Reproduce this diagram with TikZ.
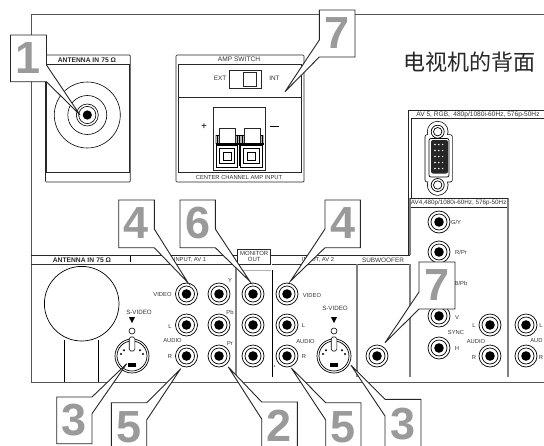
\documentclass[tikz,border=0pt]{standalone}
\usepackage{fontspec}
\setmainfont{Liberation Sans}
\newfontfamily\cjk{Noto Sans CJK SC}
\definecolor{frameC}{HTML}{555555}
\definecolor{digitC}{HTML}{9A9A9A}
\definecolor{barC}{HTML}{808080}
\tikzset{
  panel/.style={draw=black!85,line width=0.7pt},
  frameline/.style={draw=frameC,line width=1pt},
  bar/.style={draw=barC,line width=2.2pt},
  lab/.style={inner sep=0pt,font=\fontsize{5.8}{6}\selectfont,text=black!80},
  blab/.style={inner sep=0pt,font=\fontsize{6.7}{7}\selectfont\bfseries,text=black!85},
  co/.style={draw=black!85,fill=white,line width=0.9pt,line join=miter},
  dig/.style={inner sep=0pt,text=digitC,font=\fontsize{45}{45}\selectfont\bfseries},
  jack/.pic={
    \draw[black,fill=white,line width=0.7pt] (0,0) circle (11);
    \draw[black,fill=white,line width=0.7pt] (0,0) circle (8);
    \fill[black] (0,0) circle (4.8);
  },
  svideo/.pic={
    \draw[black,fill=white,line width=0.7pt] (0,0) circle (17);
    \draw[black,line width=0.7pt] (0,0) circle (15);
    \foreach \p in {(-8,-5.7),(8,-5.7),(-11,-2),(11,-2)} \fill[black] \p circle (1.1);
    \fill[black] (-4,6.7) rectangle (4,11);
    \draw[black,fill=white,line width=0.6pt,rounded corners=1.5pt] (-2.8,-19) rectangle (2.8,-5);
    \draw[black,line width=0.6pt] (0,-25) circle (3);
    \fill[black] (-3,-39) -- (3,-39) -- (0,-33) -- cycle;
  },
}
\begin{document}
\begin{tikzpicture}[x=1pt,y=-1pt]
\useasboundingbox (0,0) rectangle (544,445);
\clip (0,0) rectangle (544,445);
\fill[white] (0,0) rectangle (544,445);

% main frame
\draw[frameline] (544,14.5) -- (31,14.5) -- (31,382) -- (544,382);

% antenna panel
\draw[panel,rounded corners=1pt] (45.5,55) rectangle (130.3,182);
\draw[panel,line width=0.9pt] (46.5,64) -- (46.5,172) -- (129,172) -- (129,64) -- cycle;
\node[blab] (anttop) at (87,60) {ANTENNA IN\,\,75 Ω};
\foreach \r in {33,19.5,11,8.6} \draw[black,line width=0.6pt] (87.3,115) circle (\r);
\fill[black] (87.3,115) circle (4.6);

% amp panel
\draw[panel,rounded corners=1pt] (176,55) rectangle (304,182);
\draw[panel,line width=0.9pt] (178.5,64) -- (178.5,172) -- (301.5,172) -- (301.5,64) -- cycle;
\draw[panel] (178.5,97) -- (301.5,97);
\node[lab,font=\fontsize{6.6}{7}\selectfont] (ampsw) at (239,59.6) {AMP SWITCH};
\node[lab,font=\fontsize{6.4}{7}\selectfont] (ext) at (220,78) {EXT};
\node[lab,font=\fontsize{6.4}{7}\selectfont] (int) at (274.5,78) {INT};
\draw[panel] (229.5,70) rectangle (261,88);
\draw[panel,line width=0.9pt] (243.7,72.5) rectangle (256,86);
\node[inner sep=0pt,font=\fontsize{10}{10}\selectfont] (plus) at (204,126.5) {+};
\draw[black,line width=0.8pt] (270,126) -- (279,126);
\node[lab] (ccamp) at (239,177.3) {CENTER CHANNEL AMP INPUT};
% terminal block
\draw[panel] (213.3,107.5) rectangle (265.7,170);
\fill[barC!60] (215,135) rectangle (264,144);
\draw[black,line width=0.5pt] (216,135) -- (263,135);
\foreach \x in {219.3,244.2} {
  \draw[panel,fill=white] (\x,144) -- (\x,128.7) -- (\x+15.7,128.7) -- (\x+15.7,144);
  \draw[black,line width=0.5pt] (\x-2,135) -- (\x-2,144) (\x+17.7,135) -- (\x+17.7,144);
}
\draw[black,line width=1.3pt] (215.5,144) -- (264,144);
\foreach \x in {216,240.5} {
  \draw[black,line width=0.9pt,fill=white] (\x,145) rectangle (\x+21.5,167);
  \draw[black,line width=0.9pt] (\x+3,148.5) rectangle (\x+18.5,163.5);
  \draw[black,line width=0.6pt] (\x+7,152) rectangle (\x+15,160);
}
\draw[black,line width=1.2pt] (239.3,136) -- (239.3,166);

% band and lower panel
\draw[black!85,line width=0.8pt] (31,255) -- (410,255);
\draw[black!80,line width=0.8pt] (31,264) -- (236,264) (272,264) -- (410,264);
\node[blab] (antlow) at (82,260) {ANTENNA IN\,\,75 Ω};
\draw[black,line width=0.8pt] (130,256) -- (130,262);
\node[lab] (inav1) at (190,260) {INPUT, AV 1};
\node[lab] (inav2) at (318,260) {INPUT, AV 2};
\node[lab,font=\fontsize{6.4}{7}\selectfont] (sub) at (383,260) {SUBWOOFER};
\draw[panel,fill=white] (237.7,249) rectangle (270.7,264);
\node[lab,align=center,font=\fontsize{6}{5.8}\selectfont] (monout) at (254.2,256.3) {MONITOR\\OUT};
\draw[black!30,line width=0.6pt] (238,270) -- (271,270);
\draw[black,line width=0.8pt] (272,270) -- (272,377);
\draw[bar] (236,264) -- (236,377);
\draw[bar] (356.7,264) -- (356.7,377);
\draw[bar] (410,198) -- (410,255) (410,264) -- (410,377);
\draw[bar] (508,198) -- (508,377);

% big circle with stand
\draw[black,line width=0.7pt] (64.5,340) -- (64.5,382) (98,340) -- (98,382);
\draw[black,line width=0.7pt,fill=white] (81.7,303.7) circle (37.3);

% AV5 panel
\draw[panel] (544,110) -- (408.7,110) -- (408.7,255);
\draw[black!85,line width=0.8pt] (544,118.3) -- (411.5,118.3) -- (411.5,198);
\node[lab,font=\fontsize{6.6}{7}\selectfont] (av5) at (478,114.3) {AV 5, RGB,\,\,\,480p/1080i-60Hz, 576p-50Hz};

% VGA connector
\begin{scope}[shift={(437.7,0)}]
  \draw[black,line width=1.4pt] (0,131.7) circle (10) (0,185) circle (10);
  \draw[black,line width=1.4pt,rounded corners=2pt] (-12.4,135) rectangle (14.3,181.7);
  \fill[white] (0,131.7) circle (10) (0,185) circle (10);
  \fill[white,rounded corners=2pt] (-12.4,135) rectangle (14.3,181.7);
  \draw[black,line width=0.7pt] (0,131.7) circle (6.5) (0,131.7) circle (4.2);
  \draw[black,line width=0.7pt] (0,185) circle (6.5) (0,185) circle (4.2);
  \draw[black,line width=0.7pt,rounded corners=2pt] (-8.7,138.5) rectangle (11.3,177);
  \fill[black!85,rounded corners=2pt] (-6.7,140) rectangle (10.3,173.5);
  \foreach \i in {0,1,2} \foreach \j in {0,1,2,3,4}
    \fill[white] (-2.7+3.8*\i,144.5+6*\j) circle (0.8);
\end{scope}

% AV4 panel
\draw[black!85,line width=0.8pt] (410,198.5) -- (508,198.5);
\draw[black!85,line width=0.8pt] (411,207.3) -- (507,207.3);
\node[lab,font=\fontsize{6.3}{7}\selectfont] (av4) at (458.7,203.2) {AV4,480p/1080i-60Hz, 576p-50Hz};

% jacks
\pic (j11) at (186.5,294) {jack};
\pic (j12) at (186.5,325) {jack};
\pic (j13) at (186.5,356) {jack};
\pic (j21) at (219,294) {jack};
\pic (j22) at (219,325) {jack};
\pic (j23) at (219,356) {jack};
\pic (j31) at (253,294) {jack};
\pic (j32) at (253,325) {jack};
\pic (j33) at (253,356) {jack};
\pic (j41) at (287,294) {jack};
\pic (j42) at (287,325) {jack};
\pic (j43) at (287,356) {jack};
\pic (jsub) at (377,356) {jack};
\pic (jgy) at (439,222) {jack};
\pic (jrp) at (439,252) {jack};
\pic (jbp) at (439,284) {jack};
\pic (jv) at (439,316) {jack};
\pic (jh) at (439,348) {jack};
\pic (ja1) at (490,325) {jack};
\pic (ja2) at (490,356) {jack};
\pic (jb1) at (526,325) {jack};
\pic (jb2) at (526,356) {jack};
\pic (sv1) at (132,356) {svideo};
\pic (sv2) at (334,356) {svideo};
\fill[black] (274.5,366) circle (0.6);

% jack labels
\node[lab] (l1) at (162.5,294.5) {VIDEO};
\node[lab] (l2) at (170,326) {L};
\node[lab] (l3) at (172.5,340.7) {AUDIO};
\node[lab] (l4) at (170,356) {R};
\node[lab] (l5) at (230,280.5) {Y};
\node[lab] (l6) at (230,312.5) {Pb};
\node[lab] (l7) at (230,343) {Pr};
\node[lab,font=\fontsize{6.2}{7}\selectfont] (l8) at (139,312) {S-VIDEO};
\node[lab] (l9) at (312,295) {VIDEO};
\node[lab] (l10) at (303.5,325.5) {L};
\node[lab] (l11) at (305.5,341) {AUDIO};
\node[lab] (l12) at (304,356) {R};
\node[lab,font=\fontsize{6.2}{7}\selectfont] (l13) at (335,308.5) {S-VIDEO};
\node[lab] (l14) at (456,222.5) {G/Y};
\node[lab] (l15) at (461,252.5) {R/Pr};
\node[lab] (l16) at (461,283) {B/Pb};
\node[lab] (l17) at (457,317) {V};
\node[lab] (l18) at (456,332.5) {SYNC};
\node[lab] (l19) at (457,348.5) {H};
\node[lab] (l20) at (474,325.5) {L};
\node[lab] (l21) at (476,341) {AUDIO};
\node[lab] (l22) at (474,357) {R};
\node[lab] (l23) at (541,325.5) {L};
\node[lab] (l24) at (536.5,341) {AUD};
\node[lab] (l25) at (541,357) {R};

% title
\node[inner sep=0pt,font=\cjk\fontsize{22}{22}\selectfont,text=black!85] (title) at (469,62) {电视机的背面};

% callouts
\draw[co] (10.5,35) -- (46.5,35) -- (46.5,65) -- (80,115) -- (46.5,81.7) -- (10.5,81.7) -- cycle;
\node[dig] (n1) at (28.5,58) {1};
\draw[co] (319.3,10) -- (355,10) -- (355,57) -- (319.3,57) -- (285,91.7) -- (319.3,40) -- cycle;
\node[dig] (n7a) at (337,33.5) {7};
\draw[co] (118.7,200) -- (154.3,200) -- (154.3,229) -- (188,282.7) -- (154.3,247.7) -- (118.7,247.7) -- cycle;
\node[dig] (n4a) at (136.5,223.5) {4};
\draw[co] (180,200) -- (215.3,200) -- (215.3,229) -- (250,281.5) -- (215.3,247.7) -- (180,247.7) -- cycle;
\node[dig] (n6) at (197.7,223.5) {6};
\draw[co] (325,200) -- (360.3,200) -- (360.3,247.7) -- (325,247.7) -- (290.3,281.3) -- (325,229) -- cycle;
\node[dig] (n4b) at (342.7,223.5) {4};
\draw[co] (419,262) -- (455,262) -- (455,309) -- (419,309) -- (385,342.7) -- (419,292) -- cycle;
\node[dig] (n7b) at (437,285.5) {7};
\draw[co] (56.7,397) -- (92,397) -- (126.7,363.7) -- (92,413.7) -- (92,443.7) -- (56.7,443.7) -- cycle;
\node[dig] (n3a) at (74.3,420.5) {3};
\draw[co] (111.3,402.7) -- (146.7,402.7) -- (180.7,368.7) -- (146.7,420) -- (146.7,450) -- (111.3,450) -- cycle;
\node[dig] (n5a) at (129,427) {5};
\draw[co] (261.7,450) -- (261.7,419) -- (228.3,367) -- (261.7,402) -- (297.3,402) -- (297.3,450) -- cycle;
\node[dig] (n2) at (279.5,426) {2};
\draw[co] (325.7,450) -- (325.7,420) -- (291.3,368) -- (325.7,402.7) -- (361,402.7) -- (361,450) -- cycle;
\node[dig] (n5b) at (343.3,427) {5};
\draw[co] (385,450) -- (385,416) -- (351,365.3) -- (385,399.3) -- (421,399.3) -- (421,450) -- cycle;
\node[dig] (n3b) at (403,424) {3};
\end{tikzpicture}
\end{document}
